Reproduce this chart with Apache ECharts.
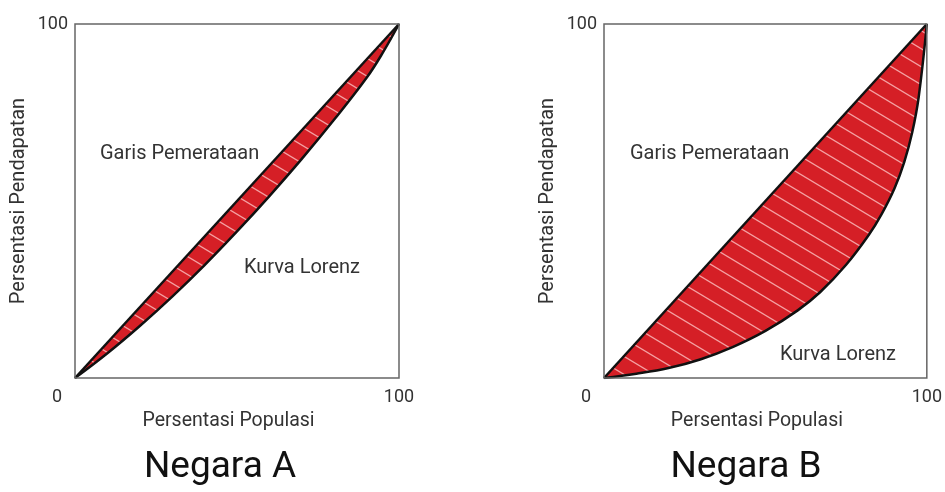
<!DOCTYPE html>
<html>
<head>
<meta charset="utf-8">
<title>Kurva Lorenz</title>
<script src="https://cdn.jsdelivr.net/npm/echarts@6/dist/echarts.min.js"></script>
<style>
    html, body { margin: 0; padding: 0; background: #fff; }
    #main { width: 945px; height: 492px; }
</style>
</head>
<body>
<div id="main"></div>
<script>
// data (percent)
var popA = [0, 10, 20, 30, 40, 50, 60, 70, 80, 90, 95, 100];
var lorenzA = [0, 7, 14.7, 23, 31.9, 41.4, 51.4, 61.9, 73, 84.8, 91.9, 100];
var popB = [0, 10, 20, 30, 40, 50, 60, 67, 75, 82, 86, 90, 93, 95.5, 97.5, 100];
var lorenzB = [0, 1.2, 2.8, 5.3, 8.8, 13.3, 19.1, 24.3, 32, 40.4, 46.3, 53.6, 61, 69.5, 79.5, 100];
var equality = [0, 100];
var axisTicks = [0, 100];
var countries = ['Negara A', 'Negara B'];
var xTitle = 'Persentasi Populasi';
var yTitle = 'Persentasi Pendapatan';
var lineNames = ['Garis Pemerataan', 'Kurva Lorenz'];

(function (e, t) {
    "use strict";
    var FONT = 'Roboto';
    var TXT = '#333';

    var pairs = function (xs, ys) {
        var out = [];
        for (var i = 0; i < xs.length; i++) {
            out.push([xs[i], ys[i]]);
        }
        return out;
    };

    // red fill with thin light diagonal stripes
    var hatch = function () {
        var c = e.createElement('canvas');
        c.width = 30;
        c.height = 18;
        var ctx = c.getContext('2d');
        ctx.fillStyle = '#d51f26';
        ctx.fillRect(0, 0, 30, 18);
        ctx.strokeStyle = 'rgba(255,205,205,0.75)';
        ctx.lineWidth = 1.3;
        for (var k = -1; k <= 1; k++) {
            ctx.beginPath();
            ctx.moveTo(-30, -18 + k * 18);
            ctx.lineTo(60, 36 + k * 18);
            ctx.stroke();
        }
        return c;
    };
    var pattern = {image: hatch(), repeat: 'repeat'};

    var lefts = [75, 604];
    var grids = [], xAxes = [], yAxes = [], series = [];
    var curves = [pairs(popA, lorenzA), pairs(popB, lorenzB)];

    for (var g = 0; g < 2; g++) {
        grids.push({
            left: lefts[g], top: 24, width: 324, height: 354,
            show: true, borderColor: '#666', borderWidth: 1.5, z: 10
        });
        xAxes.push({
            gridIndex: g, type: 'value',
            min: axisTicks[0], max: axisTicks[1], interval: 100,
            axisLine: {show: false}, axisTick: {show: false}, splitLine: {show: false},
            axisLabel: {
                margin: 10, fontSize: 18, color: TXT, fontFamily: FONT,
                formatter: function (v) {
                    return v === 0 ? '{z|0}' : String(v);
                },
                rich: {z: {padding: [0, 36, 0, 0], fontSize: 18, color: TXT, fontFamily: FONT}}
            },
            name: xTitle, nameLocation: 'middle', nameGap: 29,
            nameTextStyle: {fontSize: 19.5, color: TXT, fontFamily: FONT, padding: [0, 17, 0, 0]}
        });
        yAxes.push({
            gridIndex: g, type: 'value',
            min: axisTicks[0], max: axisTicks[1], interval: 100,
            axisLine: {show: false}, axisTick: {show: false}, splitLine: {show: false},
            axisLabel: {margin: 7, fontSize: 18, color: TXT, fontFamily: FONT, showMinLabel: false},
            name: yTitle, nameLocation: 'middle', nameGap: 46,
            nameTextStyle: {fontSize: 20, color: TXT, fontFamily: FONT}
        });
        // garis pemerataan, hatched area below it
        series.push({
            type: 'line', xAxisIndex: g, yAxisIndex: g, z: 2,
            data: pairs(equality, equality),
            showSymbol: false, silent: true,
            lineStyle: {color: '#111', width: 2.5},
            areaStyle: {color: pattern, opacity: 1}
        });
        // kurva lorenz, white below to leave only the gap red
        series.push({
            type: 'line', xAxisIndex: g, yAxisIndex: g, z: 3,
            data: curves[g], smooth: 0.4,
            showSymbol: false, silent: true,
            lineStyle: {color: '#111', width: 2.5},
            areaStyle: {color: '#fff', opacity: 1}
        });
    }

    var label = function (text, x, y, size, align, color) {
        return {
            type: 'text', x: x, y: y, silent: true, z: 20,
            style: {
                text: text, fontSize: size, fontFamily: FONT, fill: color,
                textAlign: align, textVerticalAlign: 'middle'
            }
        };
    };

    var chart = echarts.init(e.getElementById('main'));
    chart.setOption({
        animation: false,
        backgroundColor: '#fff',
        grid: grids,
        xAxis: xAxes,
        yAxis: yAxes,
        series: series,
        graphic: [
            label(lineNames[0], 100, 154, 20, 'left', TXT),
            label(lineNames[1], 244, 268, 20, 'left', TXT),
            label(lineNames[0], 630, 154, 20, 'left', TXT),
            label(lineNames[1], 780, 355, 20, 'left', TXT),
            label(countries[0], 220, 468, 37, 'center', '#111'),
            label(countries[1], 746, 468, 37, 'center', '#111')
        ]
    });
})(document, window);
</script>
</body>
</html>
